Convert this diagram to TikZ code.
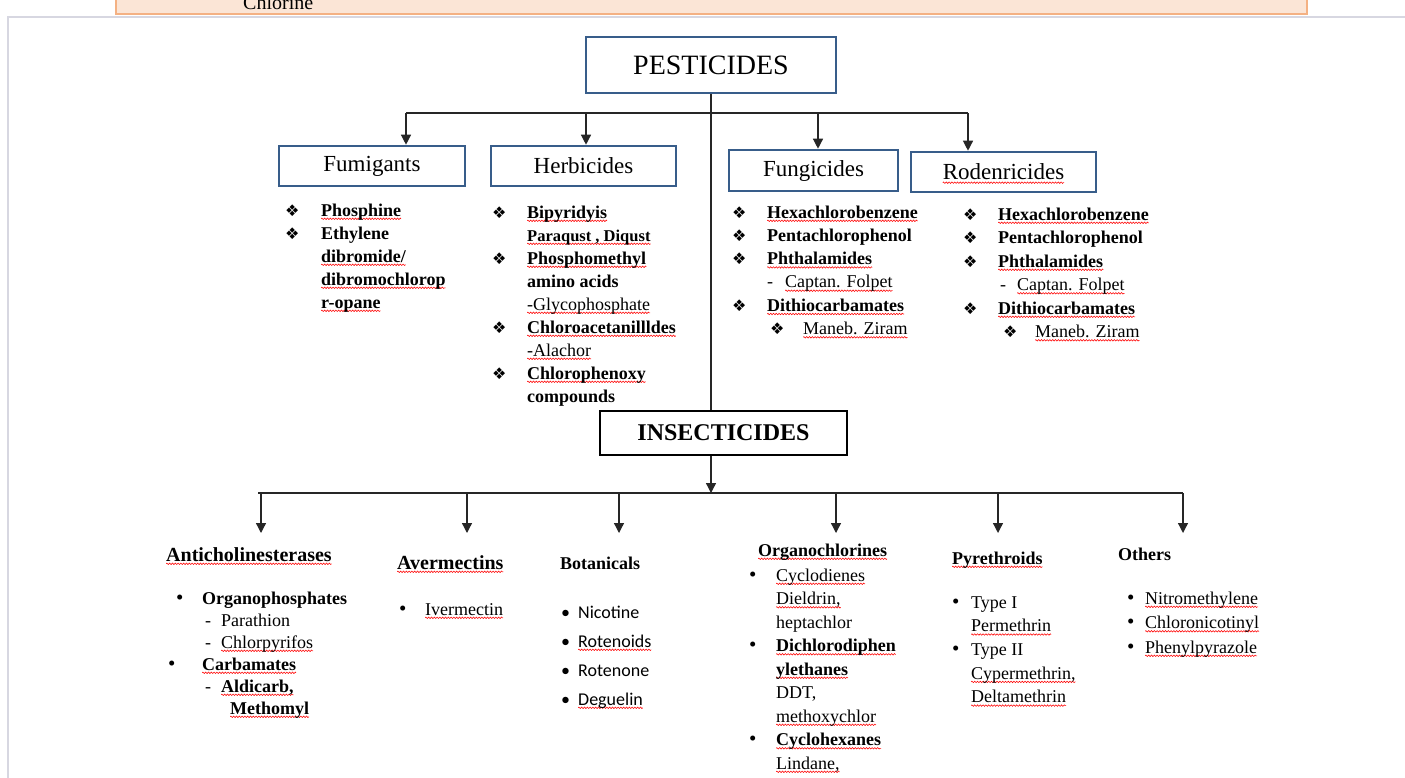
\documentclass[tikz,border=0pt]{standalone}
\usepackage{fontspec}
\setmainfont{Liberation Serif}
\newfontfamily\calfont{Carlito}
\newfontfamily\dingfont{DejaVu Sans}
\usetikzlibrary{arrows.meta,decorations.pathmorphing}

\definecolor{boxblue}{RGB}{56,93,138}
\definecolor{peach}{RGB}{251,229,214}
\definecolor{peachline}{RGB}{244,177,131}
\definecolor{framegray}{RGB}{215,215,225}

% spell-check squiggle under a word
\newsavebox\wavybox
\newlength\wavylen
\newcommand\wavy[1]{\sbox\wavybox{#1}\setlength\wavylen{\wd\wavybox}\leavevmode\rlap{\tikz[overlay]\draw[red, line width=0.55pt, decorate, decoration={zigzag, amplitude=0.75pt, segment length=2.8pt}] (0pt,-2.8pt) -- (\wavylen,-2.8pt);}\usebox\wavybox}
\newcommand\dia{{\dingfont\fontsize{16}{16}\selectfont\char"2756}}
\newcommand\bul{{\fontsize{21}{21}\selectfont\textbullet}}

\begin{document}
\begin{tikzpicture}[x=1pt,y=-1pt,
  catbox/.style={draw=boxblue, line width=2.6pt, inner sep=0pt, font={\fontsize{23}{23}\selectfont}},
  arr/.style={-{Triangle[width=10pt,length=10pt]}, line width=1.3pt, black!85},
  bus/.style={line width=1.3pt, black!85},
  head/.style={anchor=base west, inner sep=0pt, font={\bfseries\fontsize{18}{22}\selectfont}},
  lst/.style={anchor=base west, inner sep=0pt, font={\fontsize{18}{23}\selectfont}}]

\useasboundingbox (0,0) rectangle (1405,777);
\clip (0,0) rectangle (1405,777);

% Page frame and the box above
\draw[framegray, line width=1.2pt] (8,790) -- (8,17) -- (1410,17);
\fill[peach] (115,-10) rectangle (1308,15);
\draw[peachline, line width=2.5pt] (116,-10) -- (116,14) -- (1307,14) -- (1307,-10);
\node[anchor=base west, inner sep=0pt, font={\fontsize{20}{20}\selectfont}] (chl) at (243,9) {Chlorine};

% Main boxes
\node[catbox, minimum width=250pt, minimum height=56pt, font={\fontsize{28}{28}\selectfont}] (pest) at (711,65) {PESTICIDES};
\node[catbox, minimum width=186pt, minimum height=40pt] (fum) at (372,166) {Fumigants};
\node[catbox, minimum width=185pt, minimum height=40pt] (herb) at (583.5,166) {Herbicides};
\node[catbox, minimum width=169pt, minimum height=41pt] (fung) at (813.5,170.5) {Fungicides};
\node[catbox, minimum width=185pt, minimum height=40pt] (rod) at (1003.5,172) {\wavy{Rodenricides}};
\node[draw=black, line width=1.2pt, inner sep=0pt, minimum width=247pt, minimum height=44pt,
  font={\bfseries\fontsize{24}{24}\selectfont}] (insect) at (723.5,433) {INSECTICIDES};

% Upper branches
\coordinate (ubl) at (406,113);
\coordinate (ubr) at (968,113);
\draw[bus] (ubl) -- (ubr);
\draw[bus] (pest.south) -- (pest.south |- insect.north);
\draw[arr] (ubl) -- (ubl |- fum.north);
\draw[arr] (586,113) -- (herb.north -| 586,0);
\draw[arr] (818,113) -- (fung.north -| 818,0);
\draw[arr] (ubr) -- (ubr |- rod.north);

% Lower branches
\coordinate (lbl) at (258,493);
\coordinate (lbr) at (1183,493);
\draw[bus] (lbl) -- (lbr);
\draw[arr] (pest.south |- insect.south) -- (pest.south |- lbl);
\foreach \name/\x in {anti/261, aver/467, bot/619, orgc/836, pyr/998, oth/1183}{
  \coordinate (\name-in) at (\x,533);
  \draw[arr] (\name-in |- lbl) -- (\name-in);
}

% Fumigants
\node[lst, font={\bfseries\fontsize{18}{23}\selectfont}] (fumlist) at (285,216) {\begin{tabular}[t]{@{}p{36pt}@{}l@{}}
\dia & \wavy{Phosphine}\\
\dia & Ethylene\\
 & \wavy{dibromide/}\\
 & \wavy{dibromochlorop}\\
 & \wavy{r-opane}
\end{tabular}};

% Herbicides
\node[lst, font={\bfseries\fontsize{18}{23}\selectfont}] (herblist) at (492,218) {\begin{tabular}[t]{@{}p{35pt}@{}l@{}}
\dia & \wavy{Bipyridyis}\\
 & {\fontsize{16.5}{16.5}\selectfont\wavy{Paraqust , Diqust}}\\
\dia & \wavy{Phosphomethyl}\\
 & amino acids\\
 & \mdseries\wavy{-Glycophosphate}\\
\dia & \wavy{Chloroacetanillldes}\\
 & \mdseries\wavy{-Alachor}\\
\dia & \wavy{Chlorophenoxy}\\
 & compounds
\end{tabular}};

% Fungicides
\node[lst, font={\bfseries\fontsize{18}{23.3}\selectfont}] (funglist) at (732,218) {\begin{tabular}[t]{@{}p{35pt}@{}l@{}}
\dia & \wavy{Hexachlorobenzene}\\
\dia & Pentachlorophenol\\
\dia & \wavy{Phthalamides}\\
 & \mdseries\makebox[18pt][l]{-}\wavy{Captan. Folpet}\\
\dia & \wavy{Dithiocarbamates}\\
 & \mdseries\hspace{3pt}\makebox[33pt][l]{\dia}\wavy{Maneb. Ziram}
\end{tabular}};

% Rodenricides
\node[lst, font={\bfseries\fontsize{18}{23.5}\selectfont}] (rodlist) at (963,220) {\begin{tabular}[t]{@{}p{35pt}@{}l@{}}
\dia & \wavy{Hexachlorobenzene}\\
\dia & Pentachlorophenol\\
\dia & \wavy{Phthalamides}\\
 & \mdseries\hspace{2pt}\makebox[17pt][l]{-}\wavy{Captan. Folpet}\\
\dia & \wavy{Dithiocarbamates}\\
 & \mdseries\hspace{5pt}\makebox[32pt][l]{\dia}\wavy{Maneb. Ziram}
\end{tabular}};

% Insecticide classes
\node[head, font={\bfseries\fontsize{20}{22}\selectfont}] (anti) at (166,561) {\wavy{Anticholinesterases}};
\node[head, font={\bfseries\fontsize{20}{22}\selectfont}] (aver) at (397,569) {\wavy{Avermectins}};
\node[head] (bot) at (560,569) {Botanicals};
\node[head] (orgc) at (758,556) {\wavy{Organochlorines}};
\node[head] (pyr) at (952,564) {\wavy{Pyrethroids}};
\node[head] (oth) at (1118,560) {Others};

\node[lst, font={\fontsize{18}{22}\selectfont}] (antilist) at (168,604) {\begin{tabular}[t]{@{}p{34pt}@{}l@{}}
\hspace{8pt}\bul & \bfseries Organophosphates\\
 & \makebox[19pt][l]{\hspace{3pt}-}Parathion\\
 & \makebox[19pt][l]{\hspace{3pt}-}\wavy{Chlorpyrifos}\\
\bul & \bfseries\wavy{Carbamates}\\
 & \makebox[19pt][l]{\hspace{3pt}-}\bfseries\wavy{Aldicarb,}\\
 & \bfseries\hspace{28pt}\wavy{Methomyl}
\end{tabular}};

\node[lst] (averlist) at (399,615) {\begin{tabular}[t]{@{}p{26pt}@{}l@{}}
\bul & \wavy{Ivermectin}
\end{tabular}};

\node[lst, font={\calfont\fontsize{18}{29}\selectfont}] (botlist) at (561,618) {\begin{tabular}[t]{@{}p{17pt}@{}l@{}}
\textbullet & Nicotine\\
\textbullet & \wavy{Rotenoids}\\
\textbullet & Rotenone\\
\textbullet & \wavy{Deguelin}
\end{tabular}};

\node[lst, font={\fontsize{18}{23.5}\selectfont}] (orgclist) at (749,581) {\begin{tabular}[t]{@{}p{27pt}@{}l@{}}
\bul & \wavy{Cyclodienes}\\
 & \wavy{Dieldrin,}\\
 & heptachlor\\
\bul & \bfseries\wavy{Dichlorodiphen}\\
 & \bfseries\wavy{ylethanes}\\
 & DDT,\\
 & \wavy{methoxychlor}\\
\bul & \bfseries\wavy{Cyclohexanes}\\
 & \wavy{Lindane,}
\end{tabular}};

\node[lst, font={\fontsize{18}{23.7}\selectfont}] (pyrlist) at (952,608) {\begin{tabular}[t]{@{}p{19pt}@{}l@{}}
\bul & Type I\\
 & \wavy{Permethrin}\\
\bul & Type II\\
 & \wavy{Cypermethrin,}\\
 & \wavy{Deltamethrin}
\end{tabular}};

\node[lst, font={\fontsize{18}{24.5}\selectfont}] (othlist) at (1127,604) {\begin{tabular}[t]{@{}p{18pt}@{}l@{}}
\bul & \wavy{Nitromethylene}\\
\bul & \wavy{Chloronicotinyl}\\
\bul & \wavy{Phenylpyrazole}
\end{tabular}};

\end{tikzpicture}
\end{document}
